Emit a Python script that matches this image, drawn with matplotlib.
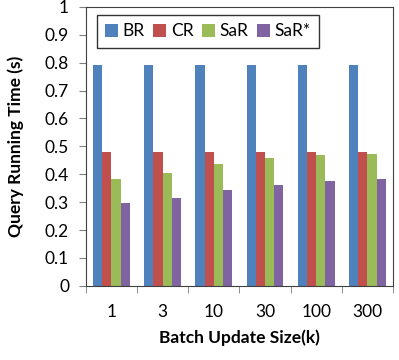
import matplotlib
matplotlib.use("Agg")
import matplotlib.pyplot as plt
import numpy as np

plt.rcParams['font.family'] = ['Lato', 'DejaVu Sans']

sizes = ["1", "3", "10", "30", "100", "300"]
br = [0.79, 0.79, 0.79, 0.79, 0.79, 0.79]
cr = [0.478, 0.478, 0.478, 0.478, 0.478, 0.478]
sar = [0.383, 0.403, 0.436, 0.459, 0.470, 0.473]
sar_star = [0.297, 0.314, 0.344, 0.362, 0.377, 0.383]

series = [("BR", br, "#4F81BD"), ("CR", cr, "#C0504D"),
          ("SaR", sar, "#9BBB59"), ("SaR*", sar_star, "#8064A2")]

fig = plt.figure(figsize=(3.99, 3.6), dpi=100)
ax = fig.add_axes([0.215, 0.206, 0.77, 0.775])

x = np.arange(len(sizes))
w = 0.18
for i, (name, vals, col) in enumerate(series):
    ax.bar(x + (i - 1.5) * w, vals, w, color=col, label=name)

ax.set_xlim(-0.5, len(sizes) - 0.5)
ax.set_ylim(0, 1)
ax.set_yticks(np.arange(0, 1.01, 0.1))
ax.set_yticklabels(["0", "0.1", "0.2", "0.3", "0.4", "0.5", "0.6", "0.7", "0.8", "0.9", "1"])
ax.set_xticks(x)
ax.set_xticklabels(sizes)
ax.set_xticks(np.arange(-0.5, len(sizes), 1), minor=True)
ax.tick_params(axis='x', which='major', length=0, pad=13, labelsize=12.5)
ax.tick_params(axis='x', which='minor', length=5, direction='out', color='#808080')
ax.tick_params(axis='y', length=5, direction='out', labelsize=12.5, pad=7, color='#808080')

for s in ax.spines.values():
    s.set_color('#404040')
    s.set_linewidth(0.8)

ax.set_xlabel("Batch Update Size(k)", fontsize=12.5, fontweight='bold', labelpad=7)
ax.set_ylabel("Query Running Time (s)", fontsize=12.5, fontweight='bold', labelpad=15)

leg = ax.legend(loc="upper left", ncol=4, bbox_to_anchor=(0.035, 0.972), fontsize=12.5,
                frameon=True, fancybox=False, handlelength=0.75, handleheight=0.75,
                handletextpad=0.25, columnspacing=0.5, borderpad=0.5, borderaxespad=0)
leg.get_frame().set_edgecolor('black')
leg.get_frame().set_linewidth(1.0)

fig.savefig("out.png", dpi=100)
